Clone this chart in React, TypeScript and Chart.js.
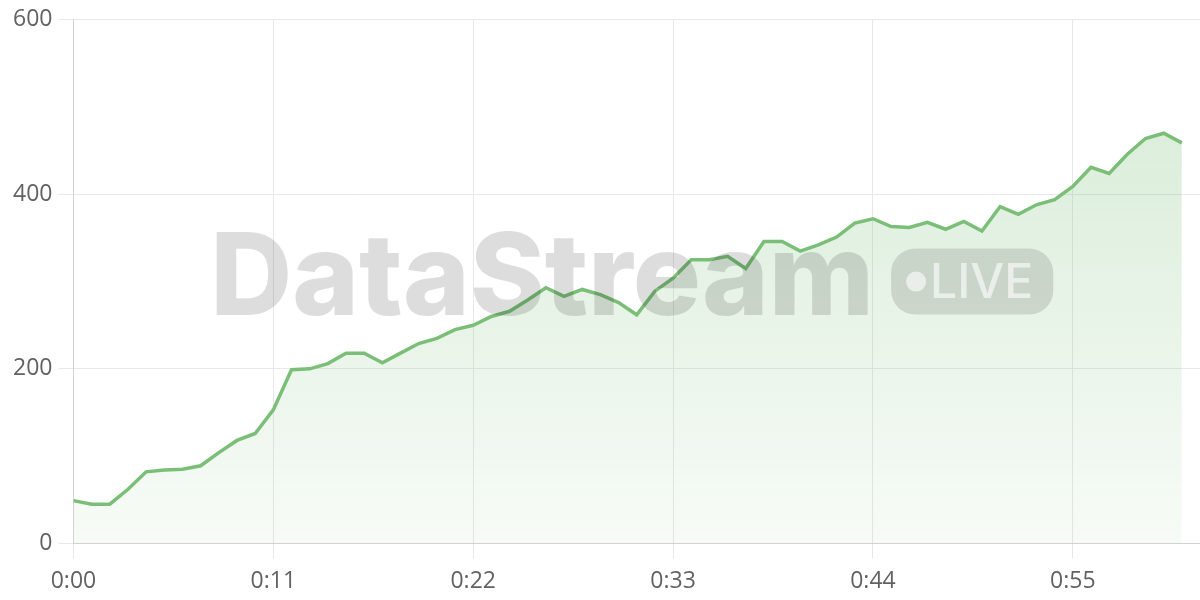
import React, { useEffect, useRef } from "react";
import { Chart, registerables } from "chart.js";

Chart.register(...registerables);

// seconds since start (x categories)
const SECONDS: number[] = [
  0, 1, 2, 3, 4, 5, 6, 7, 8, 9, 10, 11, 12, 13, 14, 15, 16, 17, 18, 19, 20,
  21, 22, 23, 24, 25, 26, 27, 28, 29, 30, 31, 32, 33, 34, 35, 36, 37, 38, 39,
  40, 41, 42, 43, 44, 45, 46, 47, 48, 49, 50, 51, 52, 53, 54, 55, 56, 57, 58,
  59, 60, 61,
];

// stream values
const VALUES: number[] = [
  49, 45, 45, 62, 82, 84, 85, 89, 104, 118, 126, 153, 199, 200, 206, 218, 218,
  207, 218, 229, 235, 245, 250, 260, 266, 279, 293, 283, 291, 285, 276, 262,
  289, 304, 325, 325, 329, 315, 346, 346, 335, 342, 351, 367, 372, 363, 362,
  368, 360, 369, 358, 386, 377, 388, 394, 409, 431, 424, 446, 464, 470, 459,
];

const Y_TICKS: number[] = [0, 200, 400, 600];
const X_STEP = 11;
const X_MAX = 62;

const WATERMARK_TEXT = "DataStream";
const WATERMARK_BADGE = "LIVE";

const LINE_COLOR = "rgb(122,190,120)";

function fmtTime(s: number): string {
  const m = Math.floor(s / 60);
  const sec = Math.round(s % 60);
  return `${m}:${sec < 10 ? "0" + sec : sec}`;
}

const watermarkPlugin = {
  id: "watermark",
  afterDraw(chart: any) {
    const { ctx, chartArea } = chart;
    const cx = (chartArea.left + chartArea.right) / 2 - 5;
    const cy = (chartArea.top + chartArea.bottom) / 2;
    ctx.save();
    const fontFamily = "Inter, 'Open Sans', sans-serif";
    ctx.font = `800 110px ${fontFamily}`;
    let tw = ctx.measureText(WATERMARK_TEXT).width;
    const targetW = 664;
    const size = (110 * targetW) / tw;
    ctx.font = `800 ${size}px ${fontFamily}`;
    tw = ctx.measureText(WATERMARK_TEXT).width;

    const badgeFont = `500 48px ${fontFamily}`;
    ctx.font = badgeFont;
    const lw = ctx.measureText(WATERMARK_BADGE).width;
    const dotR = 10;
    const padL = 15;
    const padR = 20;
    const dotGap = 4;
    const pillW = padL + dotR * 2 + dotGap + lw + padR;
    const pillH = 66;
    const gap = 17;
    const total = tw + gap + pillW;
    const x0 = cx - total / 2;

    ctx.fillStyle = "rgba(0,0,0,0.135)";
    ctx.textBaseline = "alphabetic";
    ctx.textAlign = "left";
    ctx.font = `800 ${size}px ${fontFamily}`;
    ctx.fillText(WATERMARK_TEXT, x0, cy + 33);

    const px = x0 + tw + gap;
    const py = cy - pillH / 2;
    ctx.beginPath();
    ctx.roundRect(px, py, pillW, pillH, 24);
    ctx.fillStyle = "rgba(0,0,0,0.12)";
    ctx.fill();

    ctx.fillStyle = "rgba(255,255,255,0.6)";
    ctx.beginPath();
    ctx.arc(px + padL + dotR, cy, dotR, 0, Math.PI * 2);
    ctx.fill();
    ctx.font = badgeFont;
    ctx.textBaseline = "middle";
    ctx.fillText(WATERMARK_BADGE, px + padL + dotR * 2 + dotGap, cy + 2);
    ctx.restore();
  },
};

export default function App() {
  const ref = useRef<HTMLCanvasElement | null>(null);

  useEffect(() => {
    document.body.style.margin = "0";
    const canvas = ref.current;
    if (!canvas) return;
    const points = SECONDS.map((s, i) => ({ x: s, y: VALUES[i] }));
    const chart = new Chart(canvas, {
      type: "line",
      data: {
        datasets: [
          {
            data: points,
            borderColor: LINE_COLOR,
            borderWidth: 3.5,
            pointRadius: 0,
            tension: 0,
            fill: "origin",
            backgroundColor: (c: any) => {
              const area = c.chart.chartArea;
              if (!area) return "rgba(122,190,120,0.15)";
              const g = c.chart.ctx.createLinearGradient(0, area.top, 0, area.bottom);
              g.addColorStop(0, "rgba(122,190,120,0.32)");
              g.addColorStop(1, "rgba(122,190,120,0.06)");
              return g;
            },
          },
        ],
      },
      options: {
        animation: false,
        responsive: true,
        maintainAspectRatio: false,
        layout: { padding: { top: 9, bottom: -4, left: 7, right: 0 } },
        plugins: {
          legend: { display: false },
          tooltip: { enabled: false },
        },
        scales: {
          x: {
            type: "linear",
            min: 0,
            max: X_MAX,
            grid: { color: "#e8e8e8", tickLength: 15, lineWidth: 1 },
            border: { color: "#d2d2d2", width: 1 },
            ticks: {
              stepSize: X_STEP,
              includeBounds: false,
              padding: 9,
              color: "#626262",
              font: { size: 23, family: "'Open Sans', sans-serif" },
              callback: (v: any) => fmtTime(Number(v)),
              maxRotation: 0,
            },
          },
          y: {
            min: Y_TICKS[0],
            max: Y_TICKS[Y_TICKS.length - 1],
            grid: { color: "#e8e8e8", tickLength: 15, lineWidth: 1 },
            border: { color: "#d2d2d2", width: 1 },
            afterBuildTicks: (axis: any) => {
              axis.ticks = Y_TICKS.map((v) => ({ value: v }));
            },
            ticks: {
              padding: 6,
              color: "#626262",
              font: { size: 23, family: "'Open Sans', sans-serif" },
            },
          },
        },
      },
      plugins: [watermarkPlugin],
    } as any);
    return () => chart.destroy();
  }, []);

  return (
    <div style={{ width: 1200, height: 600, position: "relative" }}>
      <canvas ref={ref} />
    </div>
  );
}
